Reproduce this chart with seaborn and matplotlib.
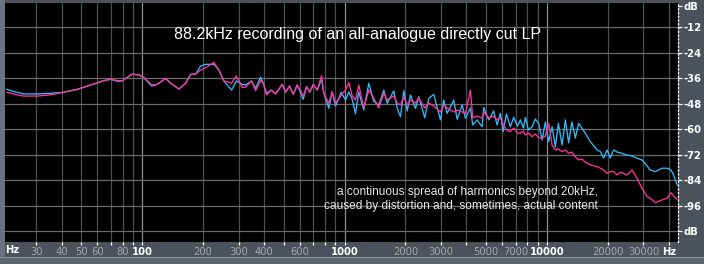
import matplotlib
matplotlib.use("Agg")
import matplotlib.pyplot as plt
import seaborn as sns
import pandas as pd

# ---------------- data ----------------
freq_hz = [21.4, 23.7, 26.0, 30.5, 35.3, 41.0, 48.0, 55.7, 64.5, 69.9, 75.7, 80.1, 82.9, 89.5, 96.4,
           102.1, 111.4, 118.9, 130.6, 138.3, 152.0, 164.0, 173.6, 183.8, 194.5, 205.9, 226.2, 239.5,
           253.5, 263.5, 276.7, 291.9, 312.4, 324.4, 347.3, 363.5, 384.8, 396.7, 411.9, 434.5, 456.3,
           492.5, 511.3, 535.2, 558.2, 584.1, 625.2, 649.1, 674.0, 700.6, 733.2, 769.9, 790.3, 836.5,
           869.5, 902.8, 963.2, 1011, 1050, 1091, 1133, 1176, 1245, 1318, 1395, 1477, 1564, 1625,
           1751, 1820, 1890, 1963, 2040, 2118, 2242, 2327, 2492, 2608, 2761, 2979, 3093, 3215, 3465,
           3602, 3813, 3958, 4190, 4301, 4521, 4786, 4875, 5160, 5461, 5675, 5892, 6077, 6310, 6601,
           6855, 7150, 7397, 7653, 7830, 8101, 8449, 8774, 9111, 9469, 9831, 10206, 10610, 11013,
           11396, 11885, 12340, 12812, 13287, 13826, 14355, 14886, 15491, 16398, 17699, 18376,
           19078, 19830, 20587, 21374, 22217, 23067, 24889, 26345, 27886, 29517, 31244, 32440,
           34337, 37049, 39217, 41036, 42276, 43100, 44100]

cyan_db = [-41.2, -42.5, -43.4, -43.4, -43.1, -42.6, -41.2, -39.2, -37.2, -36.5, -37.5, -37.2, -36.1,
           -34.1, -34.5, -35.8, -39.7, -38.9, -36.1, -38.4, -41.1, -38.4, -34.2, -34.1, -30.3, -29.5,
           -29.5, -32.2, -37.3, -39.2, -41.6, -37.3, -38.9, -39.2, -37.3, -40.8, -35.6, -38.4, -43.1,
           -41.6, -43.4, -38.9, -42.6, -39.7, -43.6, -39.2, -45.9, -40.0, -42.6, -38.9, -41.6, -36.5,
           -43.1, -50.2, -42.4, -49.1, -42.6, -46.3, -42.5, -45.9, -52.8, -42.5, -51.0, -38.4, -47.0,
           -48.6, -41.6, -47.8, -42.0, -49.9, -54.1, -41.9, -51.4, -43.9, -50.2, -44.7, -54.6, -45.5,
           -43.6, -55.6, -46.3, -52.5, -46.3, -55.3, -48.6, -54.8, -50.0, -58.0, -55.6, -58.8, -49.7,
           -55.6, -51.4, -58.0, -52.5, -61.1, -52.8, -58.8, -54.4, -58.5, -55.6, -59.4, -54.4, -60.3,
           -58.8, -55.2, -57.5, -65.0, -56.6, -65.8, -58.8, -68.2, -57.2, -67.4, -55.6, -66.4, -56.6,
           -64.1, -57.2, -59.4, -61.9, -65.8, -69.7, -70.5, -73.5, -69.7, -73.5, -69.7, -70.7, -71.1,
           -72.1, -72.5, -73.6, -74.4, -77.2, -79.1, -79.9, -78.3, -78.3, -79.1, -81.5, -83.8, -86.2]

magenta_db = [-42.6, -43.7, -44.4, -44.4, -43.8, -42.6, -41.2, -39.2, -37.2, -36.5, -37.2, -37.2, -36.1,
              -34.1, -34.5, -35.8, -39.2, -38.9, -36.1, -38.4, -41.1, -38.4, -34.2, -34.1, -32.2, -31.1,
              -28.6, -32.2, -37.3, -37.7, -38.4, -34.9, -40.3, -40.3, -37.3, -41.9, -37.2, -38.4, -43.9,
              -41.6, -43.4, -38.9, -42.6, -39.7, -43.6, -39.2, -44.4, -40.0, -42.6, -38.9, -41.6, -34.9,
              -43.1, -47.8, -42.4, -47.7, -44.0, -41.6, -38.1, -44.4, -46.3, -39.2, -50.0, -41.6, -45.3,
              -50.0, -43.0, -46.3, -44.4, -47.7, -48.6, -44.9, -48.6, -46.3, -47.7, -45.3, -50.0, -47.7,
              -49.1, -51.9, -48.6, -50.0, -51.9, -51.0, -51.9, -52.8, -41.6, -54.7, -53.8, -54.7, -51.9,
              -54.7, -53.8, -55.6, -54.7, -57.5, -60.3, -61.1, -59.4, -61.7, -61.9, -60.8, -62.7, -61.7,
              -63.5, -62.2, -64.0, -64.2, -63.2, -57.2, -67.4, -69.7, -69.3, -70.5, -69.7, -71.3, -70.7,
              -73.0, -74.4, -74.0, -75.4, -76.8, -77.5, -78.3, -79.1, -80.7, -79.9, -79.9, -81.5, -80.1,
              -81.5, -79.1, -83.0, -87.7, -91.6, -92.4, -94.5, -93.2, -92.4, -89.8, -91.3, -92.1, -92.9]

grid_freqs = [30, 40, 50, 60, 70, 80, 90, 100, 200, 300, 400, 500, 600, 700, 800, 900, 1000,
              2000, 3000, 4000, 5000, 6000, 7000, 8000, 9000, 10000, 20000, 30000, 40000]
tick_freqs = [30, 40, 50, 60, 70, 80, 90, 100, 200, 300, 400, 500, 600, 700, 800, 900, 1000,
              2000, 3000, 4000, 5000, 6000, 7000, 8000, 9000, 10000, 20000, 30000, 40000]
tick_labels = ["30", "40", "50", "60", "", "80", "", "100", "200", "300", "400", "", "600", "", "", "",
               "1000", "2000", "3000", "", "5000", "", "7000", "", "", "10000", "20000", "30000", "Hz"]
db_levels = [-12, -24, -36, -48, -60, -72, -84, -96, -108]
db_ticks = [-2.0, -12, -24, -36, -48, -60, -72, -84, -96, -108]
db_labels = ["dB", "-12", "-24", "-36", "-48", "-60", "-72", "-84", "-96", "dB"]

title = "88.2kHz recording of an all-analogue directly cut LP"
note = "a continuous spread of harmonics beyond 20kHz,\ncaused by distortion and, sometimes, actual content"

# ---------------- figure ----------------
sns.set_style("dark")
plt.rcParams["font.family"] = ["Liberation Sans", "DejaVu Sans"]

W, H = 704, 264
fig = plt.figure(figsize=(W / 100, H / 100), dpi=100, facecolor="#4b525b")
x0, x1, y0, y1 = 5, 677.5, 3, 241.7
ax = fig.add_axes([x0 / W, 1 - y1 / H, (x1 - x0) / W, (y1 - y0) / H])
ax.set_facecolor("black")

# outer decorations of the frame
fig.patches.append(plt.Rectangle((0, 0), 5 / W, 1, transform=fig.transFigure,
                                 facecolor="#69727e", edgecolor="none", zorder=-1))
fig.patches.append(plt.Rectangle((0, 0), 1, 6 / H, transform=fig.transFigure,
                                 facecolor="#5d656f", edgecolor="none", zorder=-1))
fig.patches.append(plt.Rectangle((0, 6 / H), 1, 1.2 / H, transform=fig.transFigure,
                                 facecolor="#8a939e", edgecolor="none", zorder=-1))

ax.set_xscale("log")
ax.set_xlim(21, 44200)
ax.set_ylim(-112.8, -0.7)

# grid
for f in grid_freqs:
    c = "#8c8c8c" if f in (100, 1000, 10000) else "#4e4e4e"
    ax.axvline(f, color=c, lw=0.9, zorder=1)
for d in db_levels:
    ax.axhline(d, color="#6a6a6a", lw=0.9, zorder=1)

df = pd.DataFrame({"freq": freq_hz, "cyan": cyan_db, "magenta": magenta_db})
sns.lineplot(data=df, x="freq", y="cyan", ax=ax, color="#33b8f8", lw=0.95, estimator=None, zorder=3)
sns.lineplot(data=df, x="freq", y="magenta", ax=ax, color="#ff3399", lw=0.95, estimator=None, zorder=4)

ax.set_xlabel("")
ax.set_ylabel("")

# x ticks
ax.xaxis.set_minor_locator(matplotlib.ticker.NullLocator())
ax.set_xticks(tick_freqs)
ax.set_xticklabels(tick_labels)
ax.tick_params(axis="x", which="major", direction="out", length=2.5, width=0.9, color="white",
               pad=1.5, labelsize=7.2, bottom=True)
for lab, f in zip(ax.get_xticklabels(), tick_freqs):
    if f in (100, 1000, 10000) or lab.get_text() == "Hz":
        lab.set_color("white")
        lab.set_fontweight("bold")
    else:
        lab.set_color("#a8a8a8")
    lab.set_family(["DejaVu Sans"])

# y ticks on the right
ax.yaxis.tick_right()
ax.set_yticks(db_ticks)
ax.set_yticklabels(db_labels)
ax.tick_params(axis="y", direction="out", length=3, width=0.9, color="white", pad=1.5,
               labelsize=7.2, labelcolor="white", right=True, left=False)
for lab in ax.get_yticklabels():
    lab.set_family(["DejaVu Sans"])
    lab.set_fontweight("bold")

for s in ["top", "left", "bottom"]:
    ax.spines[s].set_visible(False)
ax.spines["right"].set_visible(True)
ax.spines["right"].set_color("white")
ax.spines["right"].set_linestyle((0, (1, 2)))
ax.spines["right"].set_linewidth(0.9)
ax.grid(False)

# texts
fig.text(358 / W, 1 - 39.5 / H, title, color="white", fontsize=11.5, ha="center", va="baseline")
fig.text(598 / W, 1 - 208.5 / H, note, color="#e6e6e6", fontsize=8.6, ha="right", va="baseline",
         linespacing=1.2)
fig.text(12 / W, 1 - 250 / H, "Hz", color="white", fontsize=7.2, fontweight="bold",
         ha="center", va="center", family=["DejaVu Sans"])

fig.savefig("out.png", dpi=100, facecolor=fig.get_facecolor())
